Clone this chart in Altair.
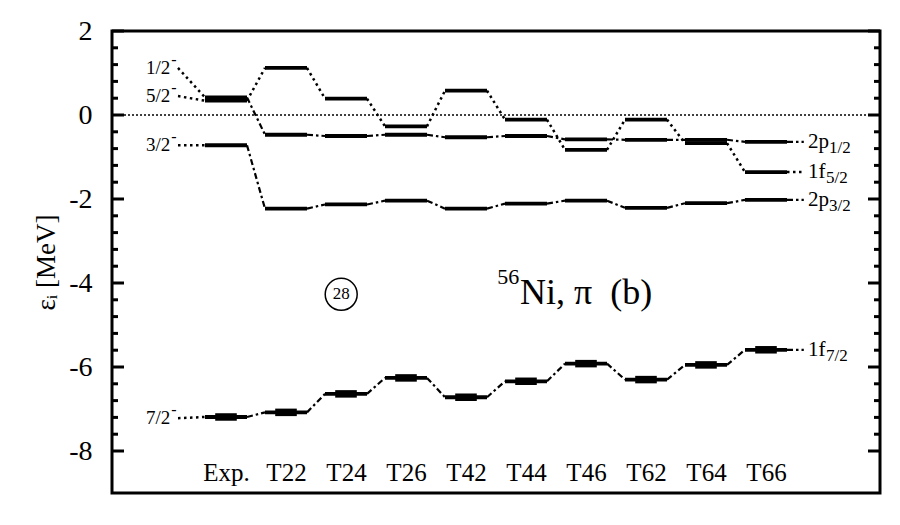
import altair as alt
import pandas as pd

# ---------------- data ----------------
columns = ["Exp.", "T22", "T24", "T26", "T42", "T44", "T46", "T62", "T64", "T66"]

orbitals = ["1f7/2", "2p3/2", "1f5/2", "2p1/2"]
e_1f72 = [-7.19, -7.08, -6.64, -6.26, -6.72, -6.34, -5.92, -6.30, -5.95, -5.59]
e_2p32 = [-0.72, -2.23, -2.13, -2.04, -2.23, -2.11, -2.04, -2.21, -2.10, -2.02]
e_1f52 = [0.34, 1.12, 0.39, -0.27, 0.58, -0.11, -0.83, -0.11, -0.67, -1.36]
e_2p12 = [0.42, -0.47, -0.50, -0.47, -0.53, -0.50, -0.58, -0.59, -0.59, -0.64]
series = [e_1f72, e_2p32, e_1f52, e_2p12]

# experimental spin labels (left) and orbital labels (right)
exp_spin = ["7/2", "3/2", "5/2", "1/2"]
exp_label_e = [-7.22, -0.72, 0.45, 1.12]
orb_main = ["1f", "2p", "1f", "2p"]
orb_sub = ["7/2", "3/2", "5/2", "1/2"]

major_ticks = [-8, -6, -4, -2, 0, 2]
minor_ticks = [round(-8 + 0.4 * k, 1) for k in range(26) if k % 5]

# ---------------- styling constants ----------------
FONT = "Liberation Serif"
HALF = 0.35
W, H = 768, 462
line_style = {"1f7/2": "dashdot", "2p3/2": "dashdot", "1f5/2": "dot", "2p1/2": "dashdot"}

xs = alt.Scale(domain=[-1.9, 10.9], nice=False, zero=False)
ys = alt.Scale(domain=[-9, 2], nice=False, zero=False)

# ---------------- tables ----------------
lev_rows, link_rows = [], []
for orb, es in zip(orbitals, series):
    for i, e in enumerate(es):
        lev_rows.append(dict(orb=orb, idx=i, e=e, xa=i - HALF, xb=i + HALF,
                             ta=i - 0.18, tb=i + 0.18))
    for i in range(len(es) - 1):
        link_rows.append(dict(orb=orb, style=line_style[orb], xa=i + HALF,
                              xb=i + 1 - HALF, ya=es[i], yb=es[i + 1]))
    link_rows.append(dict(orb=orb, style=line_style[orb], xa=len(es) - 1 + HALF,
                          xb=len(es) - 1 + 0.63, ya=es[-1], yb=es[-1]))
exp_levels = [e_1f72[0], e_2p32[0], e_1f52[0], e_2p12[0]]
for orb, le, ee in zip(orbitals, exp_label_e, exp_levels):
    link_rows.append(dict(orb=orb, style="dot", xa=-0.8, xb=-HALF, ya=le, yb=ee))

levels = pd.DataFrame(lev_rows)
links = pd.DataFrame(link_rows)
left_lab = pd.DataFrame(dict(t=exp_spin, e=exp_label_e, x=[-0.93] * 4))
right_lab = pd.DataFrame(dict(m=orb_main, s=orb_sub, e=[s[-1] for s in series],
                              x=[9.7] * 4))
zero_df = pd.DataFrame(dict(e=[0.0]))
maj_df = pd.DataFrame(dict(e=major_ticks))
min_df = pd.DataFrame(dict(e=minor_ticks))

label_expr = "[" + ",".join("'%s'" % c for c in columns) + "][datum.value]"

XA = alt.Axis(values=list(range(len(columns))), labelExpr=label_expr,
              title=None, domain=False, ticks=False, tickSize=0,
              grid=False, labelFont=FONT, labelFontSize=25,
              labelColor="black", labelBaseline="alphabetic",
              labelPadding=-13, labelFlush=False, labelOverlap=False)
YA = alt.Axis(values=major_ticks, title="εᵢ [MeV]", domain=False,
              ticks=False, tickSize=0, grid=False, labelFont=FONT,
              labelFontSize=28, labelColor="black", labelPadding=20,
              labelFlush=False, labelOverlap=False,
              labelExpr="datum.value < 0 ? '-' + abs(datum.value) : '' + datum.value",
              titleFont=FONT, titleFontSize=27, titleFontWeight="normal",
              titleColor="black", titlePadding=8)


def X(f):
    return alt.X(f, scale=xs, axis=XA, title=None)


def Y(f):
    return alt.Y(f, scale=ys, axis=YA, title="εᵢ [MeV]")


# ---------------- layers ----------------
bars = alt.Chart(levels).mark_rule(color="black", strokeWidth=3.8).encode(
    x=X("xa:Q"), x2="xb:Q", y=Y("e:Q"))

thick = alt.Chart(levels).transform_filter("datum.orb == '1f7/2'").mark_rule(
    color="black", strokeWidth=7.5).encode(x=X("ta:Q"), x2="tb:Q", y=Y("e:Q"))


def link_layer(style, dash, width):
    return alt.Chart(links).transform_filter("datum.style == '%s'" % style).mark_rule(
        color="black", strokeWidth=width, strokeDash=dash).encode(
        x=X("xa:Q"), x2="xb:Q", y=Y("ya:Q"), y2="yb:Q")


dots = link_layer("dot", [2.5, 3.5], 2.5)
dashdot = link_layer("dashdot", [6, 3, 2.5, 3], 2.2)

zero = alt.Chart(zero_df).mark_rule(color="black", strokeWidth=1.5,
                                    strokeDash=[2, 2]).encode(
    x=alt.value(0), x2=alt.value(W), y=Y("e:Q"))


def ticks(df, length, side):
    xa, xb = (0, length) if side == "left" else (W, W - length)
    return alt.Chart(df).mark_rule(color="black", strokeWidth=3).encode(
        x=alt.value(xa), x2=alt.value(xb), y=Y("e:Q"))


tick_layers = [ticks(maj_df, 12, "left"), ticks(min_df, 6, "left"),
               ticks(maj_df, 12, "right"), ticks(min_df, 6, "right")]

lt = alt.Chart(left_lab).mark_text(font=FONT, fontSize=19, align="right",
                                   baseline="middle", color="black").encode(
    x=X("x:Q"), y=Y("e:Q"), text="t:N")
lt_sup = alt.Chart(left_lab).mark_text(font=FONT, fontSize=16, align="left",
                                       baseline="middle", color="black", dx=1,
                                       dy=-8, text="-").encode(
    x=X("x:Q"), y=Y("e:Q"))

rt = alt.Chart(right_lab).mark_text(font=FONT, fontSize=21, align="left",
                                    baseline="middle", color="black").encode(
    x=X("x:Q"), y=Y("e:Q"), text="m:N")


def sub_layer(main, dx):
    return alt.Chart(right_lab).transform_filter("datum.m == '%s'" % main).mark_text(
        font=FONT, fontSize=17, align="left", baseline="middle", color="black",
        dx=dx, dy=6).encode(x=X("x:Q"), y=Y("e:Q"), text="s:N")


rt_sub = [sub_layer("2p", 21), sub_layer("1f", 18)]

ann = pd.DataFrame(dict(x=[1.92], e=[-4.27], t=["28"]))
circ = alt.Chart(ann).mark_point(shape="circle", size=1024, filled=False,
                                 color="black", strokeWidth=1.5, opacity=1).encode(
    x=X("x:Q"), y=Y("e:Q"))
circ_t = alt.Chart(ann).mark_text(font=FONT, fontSize=17, color="black",
                                  baseline="middle", align="center").encode(
    x=X("x:Q"), y=Y("e:Q"), text="t:N")

ttl = pd.DataFrame(dict(x=[4.52], xm=[4.9], e=[-4.49], sup=["56"],
                        main=["Ni, π\u00a0\u00a0(b)"]))
ttl_sup = alt.Chart(ttl).mark_text(font=FONT, fontSize=22, color="black",
                                   align="left", baseline="alphabetic",
                                   dy=-20).encode(
    x=X("x:Q"), y=Y("e:Q"), text="sup:N")
ttl_main = alt.Chart(ttl).mark_text(font=FONT, fontSize=36, color="black",
                                    align="left", baseline="alphabetic").encode(
    x=X("xm:Q"), y=Y("e:Q"), text="main:N")

chart = alt.layer(
    bars, zero, dots, dashdot, thick, *tick_layers, lt, lt_sup, rt, *rt_sub,
    circ, circ_t, ttl_sup, ttl_main
).properties(
    width=W, height=H,
    autosize=alt.AutoSizeParams(type="none"),
    padding={"left": 104, "top": 23, "right": 12, "bottom": 24},
    background="white",
).configure_view(stroke="black", strokeWidth=3)

chart.save("out.html", embed_options={"renderer": "svg", "actions": False})
